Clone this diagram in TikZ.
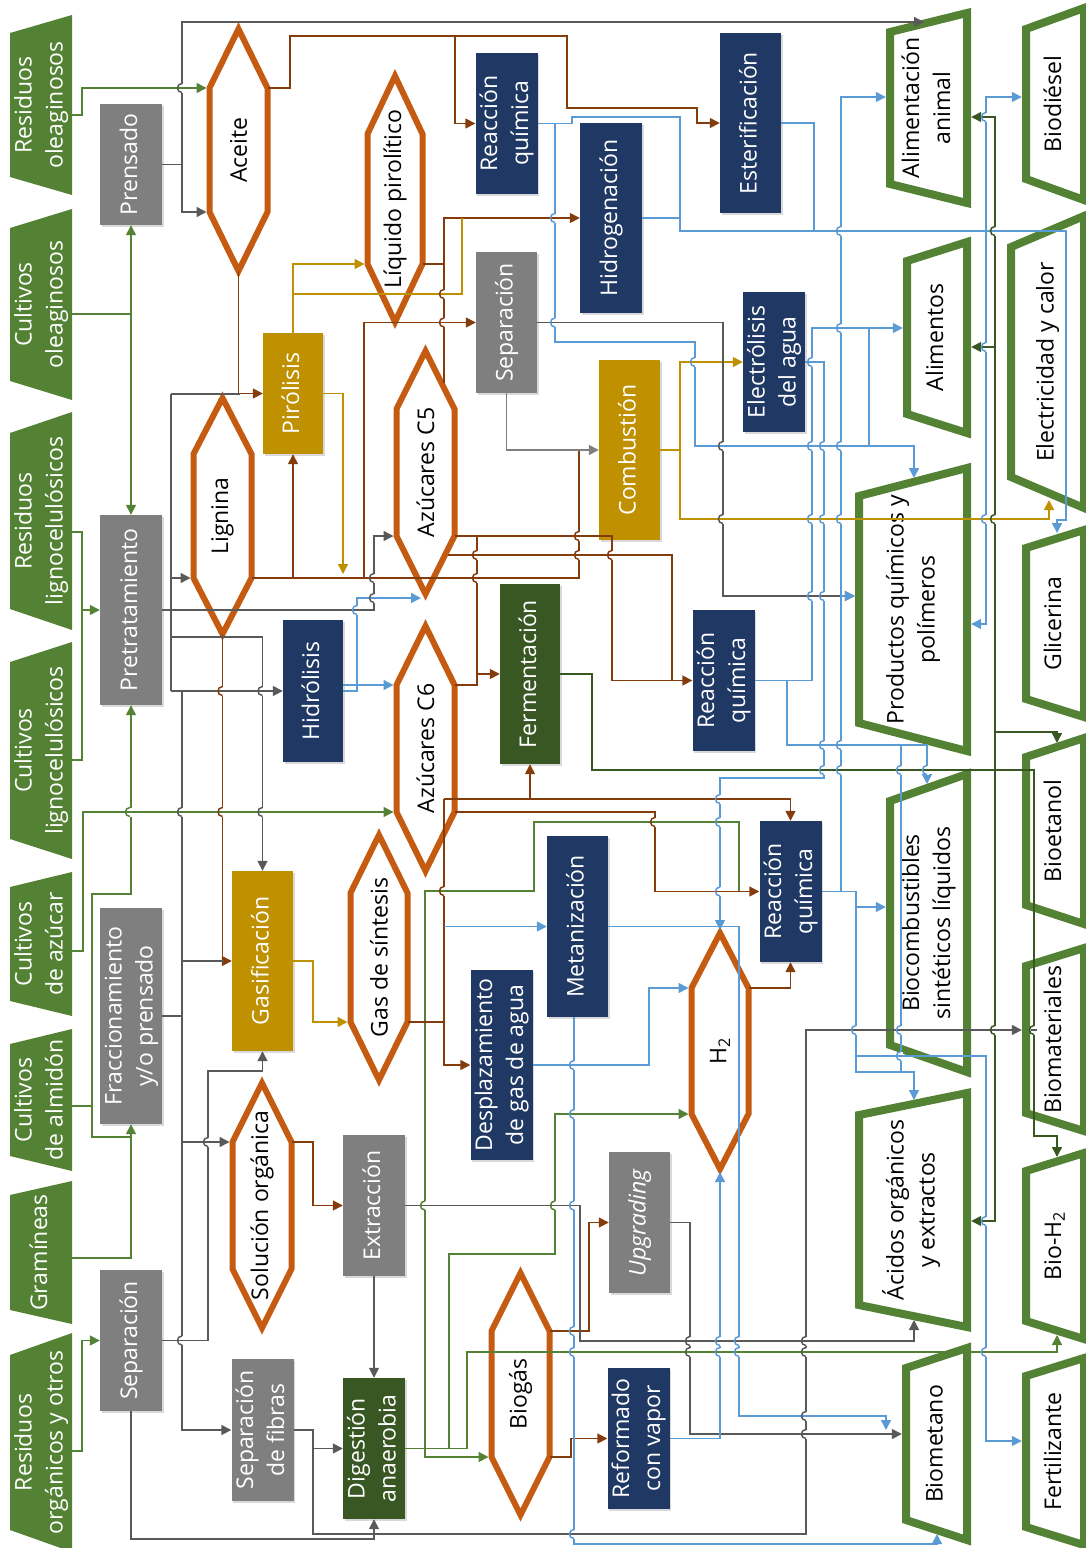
\documentclass[tikz,border=0pt]{standalone}
\usepackage{fontspec}
\setmainfont{Open Sans}
\usepackage{graphicx}
\usetikzlibrary{arrows.meta,calc,shadows}

\definecolor{feedg}{HTML}{548235}
\definecolor{boxgray}{HTML}{7F7F7F}
\definecolor{navy}{HTML}{203864}
\definecolor{gold}{HTML}{BF9000}
\definecolor{dkgreen}{HTML}{385723}
\definecolor{hexor}{HTML}{C55A11}
\definecolor{lbrown}{HTML}{843C0C}
\definecolor{lblue}{HTML}{5B9BD5}
\definecolor{lgray}{HTML}{595959}
\definecolor{lgrayb}{HTML}{7F7F7F}

\newcommand\fs{\fontsize{23}{31}\selectfont}

\tikzset{
  softshadow/.style={drop shadow={shadow xshift=1.5pt, shadow yshift=-1.5pt, opacity=.3, fill=black!50}},
  procnode/.style={rectangle, inner sep=0pt, text=white, font=\fs, softshadow},
  graybox/.style={procnode, fill=boxgray},
  navybox/.style={procnode, fill=navy},
  goldbox/.style={procnode, fill=gold},
  greenbox/.style={procnode, fill=dkgreen},
  hexline/.style={draw=hexor, line width=6pt, fill=white, line join=miter, softshadow},
  prodline/.style={draw=feedg, line width=8pt, fill=white, line join=miter},
  lbl/.style={rectangle, inner sep=0pt, font=\fs},
  conn/.style={line width=1.5pt},
  arr/.style={-{Triangle[length=10pt,width=10pt]}},
  toh/.style={shorten >=3pt},
  cg/.style={conn, draw=feedg},
  cdg/.style={conn, draw=dkgreen},
  cb/.style={conn, draw=lbrown},
  cau/.style={conn, draw=gold},
  ck/.style={conn, draw=lgray},
  ckl/.style={conn, draw=lgrayb},
  cbl/.style={conn, draw=lblue},
}

% feedstock: name, x-left, x-right, y-top(right), y-bottom(right), slant, text
\newcommand\feedbox[7]{%
  \fill[feedg] (#2,#4+#6) -- (#3,#4) -- (#3,#5) -- (#2,#5-#6) -- cycle;
  \node[lbl, text=white, minimum width={#3-#2}, minimum height={#5-#4}] (#1)
    at ({(#2+#3)/2},{(#4+#5)/2}) {\rotatebox{90}{\begin{tabular}{@{}c@{}}#7\end{tabular}}};}

% process box: style, name, x1, x2, y1, y2, text
\newcommand\procbox[7]{%
  \node[#1, minimum width={#4-#3}, minimum height={#6-#5}] (#2)
    at ({(#3+#4)/2},{(#5+#6)/2}) {\rotatebox{90}{\begin{tabular}{@{}c@{}}#7\end{tabular}}};}

% intermediate hexagon: name, cx, half width, top apex, bottom apex, apex height, text
\newcommand\hexbox[7]{%
  \draw[hexline] (#2,#4) -- (#2+#3,#4+#6) -- (#2+#3,#5-#6) -- (#2,#5)
    -- (#2-#3,#5-#6) -- (#2-#3,#4+#6) -- cycle;
  \coordinate (#1-n) at (#2,#4);
  \coordinate (#1-s) at (#2,#5);
  \coordinate (#1-ne) at (#2+#3,#4+#6);
  \coordinate (#1-se) at (#2+#3,#5-#6);
  \coordinate (#1-nw) at (#2-#3,#4+#6);
  \coordinate (#1-sw) at (#2-#3,#5-#6);
  \node[lbl] (#1) at (#2,{(#4+#5)/2}) {\rotatebox{90}{#7}};}

% product: name, x-left, x-right, y-top(right), y-bottom(right), slant, text
\newcommand\prodbox[7]{%
  \draw[prodline] (#2,#4+#6) -- (#3,#4) -- (#3,#5) -- (#2,#5-#6) -- cycle;
  \node[lbl, minimum width={#3-#2+8}, minimum height={#5-#4+8}] (#1)
    at ({(#2+#3)/2},{(#4+#5)/2}) {\rotatebox{90}{\begin{tabular}{@{}c@{}}#7\end{tabular}}};}

% line hop: x, y, colour of the vertical line, colour of the horizontal line
\newcommand\hop[4]{%
  \draw[line width=3.5pt, white] (#1,#2-4.5) -- (#1,#2+4.5);
  \draw[conn, draw=#4] (#1-3,#2) -- (#1+3,#2);
  \draw[conn, draw=#3] (#1,#2+4.5) .. controls (#1-6,#2+4.5) and (#1-6,#2-4.5) .. (#1,#2-4.5);}

\begin{document}
\begin{tikzpicture}[x=1pt,y=-1pt]
\useasboundingbox (0,0) rectangle (1086,1548);
\clip (0,0) rectangle (1086,1548);

% ---------------- feedstocks
\feedbox{fResOle}{10}{72}{15}{195}{18}{Residuos\\oleaginosos}
\feedbox{fCulOle}{10}{72}{209}{400}{19}{Cultivos\\oleaginosos}
\feedbox{fResLig}{10}{72}{412}{630}{21}{Residuos\\lignocelulósicos}
\feedbox{fCulLig}{10}{72}{642}{859}{20}{Cultivos\\lignocelulósicos}
\feedbox{fAzu}{10}{72}{872}{1016}{15}{Cultivos\\de azúcar}
\feedbox{fAlm}{10}{72}{1029}{1171}{15}{Cultivos\\de almidón}
\feedbox{fGram}{10}{72}{1181}{1324}{14}{Gramíneas}
\feedbox{fResOrg}{10}{72}{1333}{1552}{22}{Residuos\\orgánicos y otros}

% ---------------- process boxes
\procbox{graybox}{prensado}{100}{162}{104}{225}{Prensado}
\procbox{graybox}{pretrat}{100}{162}{515}{705}{Pretratamiento}
\procbox{graybox}{fracc}{100}{162}{908}{1124}{Fraccionamiento\\y/o prensado}
\procbox{graybox}{sepL}{100}{162}{1270}{1411}{Separación}
\procbox{graybox}{sepM}{476}{537}{252}{393}{Separación}
\procbox{graybox}{extr}{343}{405}{1135}{1276}{Extracción}
\procbox{graybox}{upgr}{609}{670}{1152}{1293}{\textit{Upgrading}}
\procbox{graybox}{sepfib}{232}{293}{1359}{1501}{Separación\\de fibras}
\procbox{navybox}{rq1}{476}{537}{53}{194}{Reacción\\química}
\procbox{navybox}{hidrog}{580}{642}{123}{313}{Hidrogenación}
\procbox{navybox}{ester}{720}{781}{33}{213}{Esterificación}
\procbox{navybox}{electr}{743}{805}{292}{432}{Electrólisis\\del agua}
\procbox{navybox}{hidrol}{283}{343}{620}{762}{Hidrólisis}
\procbox{navybox}{rq2}{693}{754}{610}{751}{Reacción\\química}
\procbox{navybox}{rq3}{760}{821}{821}{962}{Reacción\\química}
\procbox{navybox}{metan}{547}{608}{836}{1017}{Metanización}
\procbox{navybox}{despl}{471}{532}{970}{1160}{Desplazamiento\\de gas de agua}
\procbox{navybox}{reform}{608}{669}{1368}{1509}{Reformado\\con vapor}
\procbox{goldbox}{pirol}{263}{323}{333}{454}{Pirólisis}
\procbox{goldbox}{gasif}{232}{293}{871}{1051}{Gasificación}
\procbox{goldbox}{combust}{599}{660}{360}{540}{Combustión}
\procbox{greenbox}{ferm}{500}{560}{584}{764}{Fermentación}
\procbox{greenbox}{digest}{343}{405}{1378}{1519}{Digestión\\anaerobia}

% ---------------- intermediates
\hexbox{hAce}{238.5}{29}{29}{271}{59}{Aceite}
\hexbox{hLiq}{395}{27.5}{76}{322}{58}{Líquido pirolítico}
\hexbox{hLig}{222.5}{29}{398}{634}{56}{Lignina}
\hexbox{hC5}{425.5}{29}{351}{594}{58}{Azúcares C5}
\hexbox{hC6}{425.5}{29}{626}{871}{59}{Azúcares C6}
\hexbox{hGas}{379}{28.5}{835}{1080}{58}{Gas de síntesis}
\hexbox{hSol}{262}{29.5}{1083}{1328}{59}{Solución orgánica}
\hexbox{hH2}{720}{28.5}{933}{1169}{55}{H\textsubscript{2}}
\hexbox{hBio}{520.5}{29}{1273}{1515}{58}{Biogás}

% ---------------- products
\prodbox{oAnim}{890}{967}{13}{203}{19}{Alimentación\\animal}
\prodbox{oAlim}{907}{967}{242}{433}{19}{Alimentos}
\prodbox{oProd}{859}{967}{468}{751}{28}{Productos químicos y\\polímeros}
\prodbox{oBioc}{890}{967}{774}{1072}{27}{Biocombustibles\\sintéticos líquidos}
\prodbox{oAcid}{859}{967}{1093}{1327}{22}{Ácidos orgánicos\\y extractos}
\prodbox{oBmet}{906}{967}{1348}{1540}{20}{Biometano}
\prodbox{oBdie}{1026}{1084}{8}{200}{21}{Biodiésel}
\prodbox{oElec}{1011}{1084}{216}{508}{31}{Electricidad y calor}
\prodbox{oGlic}{1026}{1084}{530}{717}{18}{Glicerina}
\prodbox{oBeta}{1026}{1084}{738}{924}{19}{Bioetanol}
\prodbox{oBmat}{1026}{1084}{948}{1131}{18}{Biomateriales}
\prodbox{oBh2}{1026}{1084}{1153}{1339}{18}{Bio-H\textsubscript{2}}
\prodbox{oFert}{1026}{1084}{1358}{1545}{18}{Fertilizante}

% ---------------- feedstock flows (green)
\draw[cg,arr,toh] (fResOle.east |- 0,115) -- (82,115) |- (hAce-nw);
\draw[cg,arr] (fCulOle.east |- 0,314) -| (prensado.south);
\draw[cg,arr] (prensado.south |- 0,314) -- (pretrat.north);
\draw[cg,arr] (fResLig.east |- 0,532) -- (82,532) |- (pretrat.west);
\draw[cg] (fCulLig.east |- 0,760) -| (82,610);
\draw[cg,arr,toh] (fAzu.east |- 0,951) -- (83,951) |- (hC6-sw);
\draw[cg,arr] (fAlm.east |- 0,1106) -- (92,1106) |- (131,894) -- (pretrat.south);
\draw[cg] (92,1106) |- (131,1137);
\draw[cg,arr] (fGram.east |- 0,1258) -| (fracc.south);
\draw[cg,arr] (fResOrg.east |- 0,1451) -- (82,1451) |- (sepL.west);
\draw[cg] (digest.east) -- (467,1448.5);
\draw[cg,arr,toh] (425,1448.5) |- (hBio-sw);
\draw[cg] (425,1448.5) -- (425,891) -| (534,822) -| (739,891);
\draw[cg,arr,toh] (449,1448.5) |- (555,1254) |- (hH2-sw);
\draw[cg,arr] (467,1448.5) |- (1057,1352) -- (1057,1335);

% ---------------- fermentation flows (dark green)
\draw[cdg,arr] (ferm.east) -- (592,674) |- (1034,770) |- (1057,1136) -- (1057,1157);
\draw[cdg,arr] (995,770) |- (oAnim.east |- 0,117);
\draw[cdg,arr] (995,347) -- (oAlim.east |- 0,347);
\draw[cdg,arr] (995,770) |- (oAcid.east |- 0,1221);
\draw[cdg,arr] (995,732) -| (1057,743);

% ---------------- intermediate flows (brown)
\draw[cb,arr] (hAce-ne) -- (290,88) |- (567,36) |- (697,108) |- (ester.west);
\draw[cb,arr] (455,36) |- (rq1.west);
\draw[cb,arr] (hAce-s) |- (pirol.west);
\draw[cb] (hLig-se) -- (579,578) -- (579,450);
\draw[cb,arr] (293,578) -- (pirol.south);
\draw[cb,arr] (364,578) |- (sepM.west);
\draw[cb,arr] (hLiq-se) -- (444,264) |- (hidrog.west);
\draw[cb] (444,383) -- (444,264);
\draw[cb,arr] (hC5-se) -- (612,536) |- (rq2.west);
\draw[cb] (448,555) -| (672,680.5);
\draw[cb,arr] (477,536) |- (ferm.west);
\draw[cb] (hC6-ne) -| (477,674);
\draw[cb] (hGas-se) -| (444,799);
\draw[cb,arr] (444,1022) -- (444,1065) -- (despl.west);
\draw[cb,arr] (444,799) -| (rq3.north);
\draw[cb,arr] (530,799) -- (ferm.south);
\draw[cb,arr] (hC6-se) -- (655,812) |- (rq3.west);
\draw[cb,arr] (hH2-ne) -| (rq3.south);
\draw[cb,arr] (hLig-s) |- (gasif.west);
\draw[cb,arr] (hSol-ne) -- (313,1142) |- (extr.west);
\draw[cb,arr] (hBio-ne) -- (589,1331) |- (upgr.west);
\draw[cb,arr] (hBio-se) -- (571,1457) |- (reform.west);

% ---------------- thermal flows (gold)
\draw[cau,arr,toh] (pirol.north) |- (hLiq-sw);
\draw[cau] (293,294) -| (462,218);
\draw[cau,arr] (pirol.east) -| (343,574);
\draw[cau,arr,toh] (gasif.east) -- (313,961) |- (hGas-sw);
\draw[cau,arr] (combust.east) -| (680,362) -- (electr.west);
\draw[cau,arr] (680,450) |- (1049,519) -- (1049,500);

% ---------------- separation flows (gray)
\draw[ck,arr,toh] (prensado.east) -- (182,164.5) |- (hAce-sw);
\draw[ck,arr] (182,164.5) |- (924,22);
\draw[ck] (171,394) -- (240,394);
\draw[ck] (171,394) -- (171,691);
\draw[ck,arr,toh] (171,578) -- (hLig-sw);
\draw[ck,arr,toh] (pretrat.east) -- (374,610) |- (hC5-sw);
\draw[ck,arr] (171,691) -- (hidrol.west);
\draw[ck,arr] (171,637) -| (gasif.north);
\draw[ck,arr] (182,691) |- (sepfib.west);
\draw[ck] (182,961) -- (224,961);
\draw[ck] (fracc.east) -- (182,1016);
\draw[ck,arr,toh] (182,1142) -- (hSol-nw);
\draw[ck,arr] (sepL.east) -- (208,1340.5) |- (262.5,1071) -- (gasif.south);
\draw[ck,arr] (sepL.south) |- (374,1539) -- (digest.south);
\draw[ck,arr] (sepfib.east) -- (313,1430) |- (digest.west);
\draw[ck,arr] (313,1430) |- (806,1534) |- (oBmat.west |- 0,1030);
\draw[ck,arr] (extr.south) -- (digest.north);
\draw[ck,arr] (extr.east) -- (580,1205.5) |- (914,1341) -- (914,1320);
\draw[ck,arr] (upgr.east) -- (690,1222.5) |- (oBmet.west |- 0,1434);
\draw[ck,arr] (sepM.east) -- (723,322.5) |- (oProd.west |- 0,596);
\draw[ckl,arr] (sepM.south) |- (combust.west);

% ---------------- product flows (blue)
\draw[cbl,arr] (rq1.east) -- (572,123.5) |- (680,117) |- (1066,231) -- (1066,520) -| (1057,533);
\draw[cbl] (hidrog.east) -- (680,218);
\draw[cbl] (ester.east) -- (814,123) -- (814,231);
\draw[cbl,arr] (986,231) |- (oBdie.west |- 0,97);
\draw[cbl,arr] (986,231) |- (oProd.east |- 0,624);
\draw[cbl,arr] (555,123.5) |- (695,342) |- (914,446) -- (914,478);
\draw[cbl,arr] (rq2.east) -- (812,680.5) |- (oAlim.west |- 0,328);
\draw[cbl] (869,328) -- (869,446);
\draw[cbl,arr,toh] (electr.east) -- (824,362) |- (720,778) -- (hH2-n);
\draw[cbl,arr] (rq2.east) -- (787,680.5) |- (927,745) -- (927,784);
\draw[cbl] (901,745) -- (901,1072);
\draw[cbl,arr] (rq3.east) -- (856,891.5) |- (oBioc.west |- 0,907);
\draw[cbl,arr] (856,891.5) |- (914,1072) -- (914,1100);
\draw[cbl,arr] (856,1056) -| (986,1441) -- (oFert.west |- 0,1441);
\draw[cbl,arr] (841,891.5) |- (oAnim.west |- 0,97);
\draw[cbl,arr] (841,596) -- (oProd.west |- 0,596);
\draw[cbl,arr,toh] (hidrol.east |- hC6-nw) -- (hC6-nw);
\draw[cbl,arr] (hidrol.east) -- (357,691) |- (421,598);
\draw[cbl,arr] (444,926.5) -- (metan.west);
\draw[cbl,arr,toh] (despl.east) -- (649,1065) |- (hH2-nw);
\draw[cbl,arr] (metan.east) -- (739,926.5) |- (886,1416) -- (886,1430);
\draw[cbl,arr] (metan.south -| 574,0) |- (937,1544) -- (937,1534);
\draw[cbl,arr,toh] (reform.east) -- (720,1438.5) -- (hH2-s);

% ---------------- line hops at crossings
\hop{182}{88}{lgray}{feedg}
\hop{130}{812}{feedg}{feedg}
\hop{182}{812}{lgray}{feedg}
\hop{222.5}{812}{lbrown}{feedg}
\hop{262.5}{812}{lgray}{feedg}
\hop{222.5}{691}{lbrown}{lgray}
\hop{262.5}{691}{lgray}{lgray}
\hop{357}{610}{lblue}{lgray}
\hop{374}{578}{lgray}{lbrown}
\hop{374}{598}{lgray}{lblue}
\hop{477}{578}{lbrown}{lbrown}
\hop{477}{555}{lbrown}{lbrown}
\hop{579}{536}{lbrown}{lbrown}
\hop{579}{555}{lbrown}{lbrown}
\hop{612}{555}{lbrown}{lbrown}
\hop{723}{519}{lgray}{gold}
\hop{812}{519}{lblue}{gold}
\hop{824}{519}{lblue}{gold}
\hop{841}{519}{lblue}{gold}
\hop{986}{519}{lblue}{gold}
\hop{995}{519}{dkgreen}{gold}
\hop{723}{446}{lgray}{lblue}
\hop{812}{446}{lblue}{lblue}
\hop{824}{446}{lblue}{lblue}
\hop{841}{446}{lblue}{lblue}
\hop{812}{596}{lblue}{lgray}
\hop{824}{596}{lblue}{lgray}
\hop{824}{745}{lblue}{lblue}
\hop{841}{745}{lblue}{lblue}
\hop{824}{770}{lblue}{dkgreen}
\hop{841}{770}{lblue}{dkgreen}
\hop{901}{770}{lblue}{dkgreen}
\hop{927}{770}{lblue}{dkgreen}
\hop{720}{799}{lblue}{lbrown}
\hop{655}{822}{lbrown}{feedg}
\hop{720}{822}{lblue}{feedg}
\hop{720}{891.5}{lblue}{lbrown}
\hop{444}{891}{lbrown}{feedg}
\hop{574}{1065}{lblue}{lblue}
\hop{574}{1114}{lblue}{feedg}
\hop{425}{1205.5}{feedg}{lgray}
\hop{555}{1205.5}{feedg}{lgray}
\hop{574}{1205.5}{lblue}{lgray}
\hop{574}{1331}{lblue}{lbrown}
\hop{574}{1352}{lblue}{feedg}
\hop{574}{1534}{lblue}{lgray}
\hop{690}{1341}{lgray}{lgray}
\hop{720}{1341}{lblue}{lgray}
\hop{739}{1341}{lblue}{lgray}
\hop{806}{1341}{lgray}{lgray}
\hop{690}{1352}{lgray}{feedg}
\hop{720}{1352}{lblue}{feedg}
\hop{739}{1352}{lblue}{feedg}
\hop{806}{1352}{lgray}{feedg}
\hop{986}{1352}{lblue}{feedg}
\hop{806}{1416}{lgray}{lblue}
\hop{806}{1434}{lgray}{lgray}
\hop{841}{231}{lblue}{lblue}
\hop{995}{231}{dkgreen}{lblue}
\hop{555}{322.5}{lblue}{lgray}
\hop{555}{218}{lblue}{lbrown}
\hop{444}{294}{lbrown}{gold}
\hop{444}{322.5}{lbrown}{lbrown}
\hop{841}{328}{lblue}{lblue}
\hop{695}{362}{lblue}{gold}
\hop{812}{362}{lblue}{lblue}
\hop{901}{1056}{lblue}{lblue}
\hop{856}{1030}{lblue}{lgray}
\hop{901}{1030}{lblue}{lgray}
\hop{995}{1030}{dkgreen}{lgray}
\hop{1034}{1030}{dkgreen}{lgray}
\hop{208}{1142}{lgray}{lgray}
\hop{182}{1340.5}{lgray}{lgray}
\hop{986}{1221}{lblue}{dkgreen}
\hop{986}{347}{lblue}{dkgreen}
\hop{986}{117}{lblue}{dkgreen}
\end{tikzpicture}
\end{document}
